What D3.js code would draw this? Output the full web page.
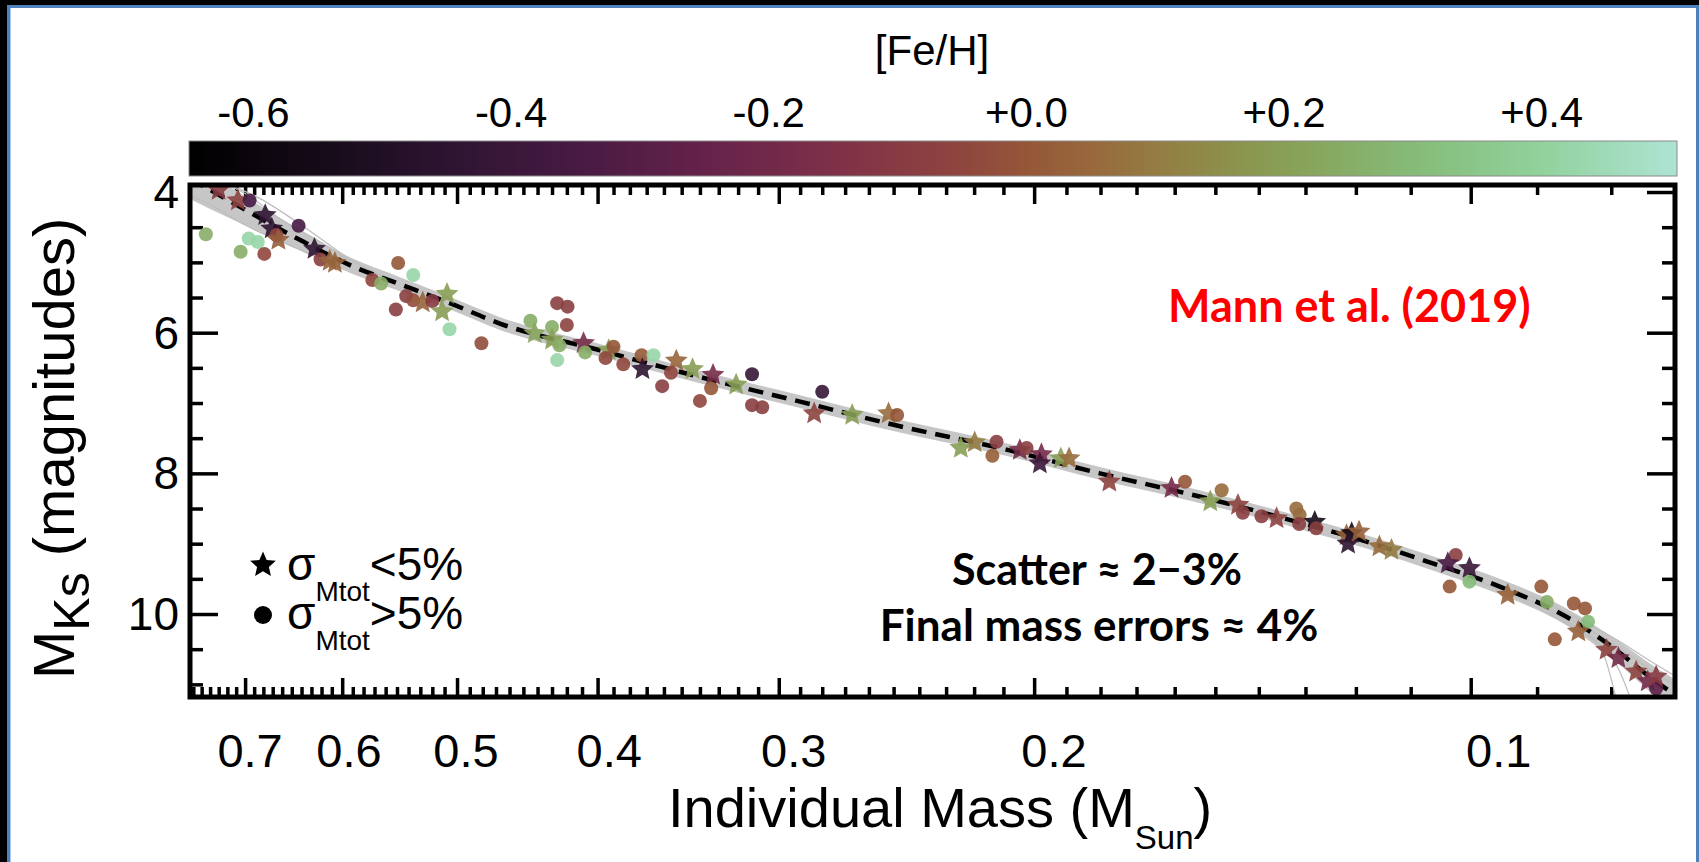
<!DOCTYPE html>
<html><head><meta charset="utf-8">
<script src="https://cdn.jsdelivr.net/npm/d3@7"></script>
<style>html,body{margin:0;padding:0;background:#000;overflow:hidden}svg{display:block}</style>
</head><body><svg id="c" width="1699" height="862"></svg>
<script>
// ---------------- DATA ----------------
const massMajorTicks = [0.7, 0.6, 0.5, 0.4, 0.3, 0.2, 0.1];
const massTickLabels = ["0.7", "0.6", "0.5", "0.4", "0.3", "0.2", "0.1"];
const mksMajorTicks = [4, 6, 8, 10];
const mksTickLabels = ["4", "6", "8", "10"];
const fehTicks = [-0.6, -0.4, -0.2, 0.0, 0.2, 0.4];
const fehTickLabels = ["-0.6", "-0.4", "-0.2", "+0.0", "+0.2", "+0.4"];

// colour bar stops ([Fe/H] -> colour)
const fehStops = [-0.65, -0.55, -0.45, -0.35, -0.25, -0.15, -0.05, 0.00, 0.05, 0.10, 0.15, 0.20, 0.30, 0.40, 0.505];
const fehStopColors = ["#000000", "#150b18", "#2d1431", "#471a42", "#65224a", "#7e3048", "#8f463e", "#955638",
  "#98683c", "#947c42", "#8d8e4a", "#889f55", "#85bb78", "#91d29c", "#aee3d4"];

// best-fit relation (dashed) and its spread
const fitMass = [0.764, 0.740, 0.6485, 0.5895, 0.5474, 0.5057, 0.4671, 0.3985, 0.340, 0.290, 0.2475, 0.2112, 0.1802, 0.1538, 0.1312, 0.1180, 0.1062, 0.0955, 0.0859, 0.0794, 0.0753, 0.0723];
const fitMKs = [3.81, 3.97, 4.63, 5.06, 5.31, 5.58, 5.87, 6.25, 6.63, 6.98, 7.33, 7.64, 8.00, 8.33, 8.70, 8.97, 9.28, 9.61, 10.04, 10.51, 10.89, 11.15];
const bandLow = [3.55, 3.74, 4.48, 4.95, 5.21, 5.49, 5.78, 6.16, 6.54, 6.89, 7.24, 7.55, 7.91, 8.24, 8.61, 8.88, 9.18, 9.50, 9.92, 10.36, 10.70, 10.93];
const bandHigh = [4.10, 4.24, 4.78, 5.17, 5.41, 5.67, 5.96, 6.34, 6.72, 7.07, 7.42, 7.73, 8.09, 8.42, 8.79, 9.07, 9.38, 9.72, 10.16, 10.68, 11.10, 11.42];

// individual thin realisations that stray at the ends
const realMass = [
  [0.764, 0.72, 0.684, 0.632, 0.59, 0.55],
  [0.764, 0.70, 0.66, 0.62, 0.59],
  [0.764, 0.74, 0.70, 0.6485, 0.60],
  [0.1062, 0.0955, 0.0859, 0.0813, 0.0794],
  [0.0955, 0.0859, 0.0813, 0.0790, 0.0776],
  [0.0955, 0.0859, 0.0794, 0.0753, 0.0723],
  [0.0955, 0.0859, 0.0794, 0.0753, 0.0723]
];
const realMKs = [
  [3.62, 3.88, 4.09, 4.55, 4.98, 5.28],
  [3.75, 4.02, 4.40, 4.72, 5.02],
  [4.05, 4.18, 4.47, 4.78, 5.08],
  [9.30, 9.66, 10.14, 10.5, 11.2],
  [9.64, 10.10, 10.45, 10.8, 11.2],
  [9.58, 9.98, 10.36, 10.66, 10.88],
  [9.62, 10.05, 10.45, 10.78, 11.02]
];

// binaries' components: mass, M_Ks, [Fe/H], shape (s = sigma<5%, c = sigma>5%)
const ptMass = [0.730, 0.708, 0.695, 0.678, 0.671, 0.666, 0.664, 0.643, 0.745, 0.696, 0.686, 0.705, 0.679, 0.627, 0.621, 0.612, 0.607, 0.549, 0.536, 0.572,
  0.564, 0.542, 0.536, 0.551, 0.528, 0.520, 0.508, 0.512, 0.506, 0.481, 0.445, 0.442, 0.430, 0.430, 0.425, 0.4265, 0.4265, 0.4195, 0.420, 0.409,
  0.408, 0.393, 0.390, 0.395, 0.384, 0.373, 0.366, 0.3725, 0.353, 0.356, 0.361, 0.344, 0.333, 0.334, 0.321, 0.340, 0.313, 0.313, 0.308, 0.280,
  0.2836, 0.267, 0.252, 0.2486, 0.2247, 0.2198, 0.2123, 0.2137, 0.2046, 0.2024, 0.1977, 0.1982, 0.1917, 0.1892, 0.1775, 0.1608, 0.1574, 0.1512, 0.1485, 0.1447,
  0.1436, 0.1394, 0.1361, 0.1319, 0.1312, 0.1313, 0.1281, 0.1278, 0.1218, 0.1208, 0.1215, 0.1194, 0.1156, 0.1134, 0.1024, 0.1037, 0.1002, 0.1002, 0.1034, 0.0943,
  0.0894, 0.0886, 0.0849, 0.0834, 0.0830, 0.0843, 0.0875, 0.0806, 0.0791, 0.0769, 0.0755, 0.0745, 0.0745];
const ptMKs = [3.97, 4.12, 4.12, 4.33, 4.52, 4.61, 4.68, 4.48, 4.60, 4.66, 4.71, 4.85, 4.88, 4.81, 4.96, 4.98, 5.01, 5.01, 5.18, 5.25,
  5.30, 5.48, 5.54, 5.67, 5.57, 5.55, 5.45, 5.70, 5.95, 6.15, 5.83, 6.01, 5.92, 6.10, 6.18, 6.39, 5.58, 5.63, 5.89, 6.15,
  6.28, 6.25, 6.20, 6.36, 6.45, 6.32, 6.32, 6.52, 6.40, 6.57, 6.76, 6.52, 6.60, 6.79, 6.74, 6.97, 6.59, 7.03, 7.06, 6.84,
  7.15, 7.17, 7.15, 7.17, 7.64, 7.56, 7.55, 7.75, 7.67, 7.64, 7.73, 7.86, 7.79, 7.79, 8.12, 8.21, 8.12, 8.40, 8.24, 8.45,
  8.56, 8.61, 8.64, 8.50, 8.59, 8.72, 8.69, 8.78, 8.88, 8.85, 9.00, 8.83, 9.04, 9.09, 9.16, 9.28, 9.35, 9.54, 9.61, 9.73,
  9.61, 9.83, 9.85, 9.92, 10.11, 10.25, 10.36, 10.51, 10.63, 10.82, 10.96, 11.06, 10.89];
const ptFeh = [-0.1, -0.07, -0.35, -0.45, -0.45, -0.05, 0.02, -0.35, 0.25, 0.42, 0.42, 0.25, -0.05, -0.45, -0.08, 0.04, 0.04, 0.0, 0.42, -0.05,
  0.25, -0.08, -0.03, -0.08, 0.04, -0.1, 0.2, 0.2, 0.42, -0.03, 0.25, 0.22, 0.25, 0.2, 0.25, 0.42, -0.08, -0.08, -0.07, -0.18,
  0.25, 0.2, 0.0, -0.05, -0.05, 0.01, 0.42, -0.45, 0.04, -0.05, -0.08, 0.2, -0.18, 0.0, 0.2, -0.05, -0.42, -0.08, -0.08, -0.42,
  -0.06, 0.2, 0.06, 0.0, 0.2, 0.1, -0.08, 0.02, -0.18, -0.08, -0.18, -0.4, 0.2, 0.06, -0.06, -0.18, 0.0, 0.2, 0.06, -0.06,
  -0.08, -0.08, -0.06, 0.06, 0.06, -0.08, -0.55, -0.08, 0.03, -0.55, -0.45, 0.03, 0.06, 0.1, -0.08, -0.35, -0.4, 0.3, 0.0, 0.03,
  0.0, 0.25, 0.0, 0.0, 0.3, 0.03, 0.0, -0.06, -0.18, -0.06, -0.18, -0.28, -0.1];
const ptShape = ["s", "s", "c", "s", "s", "c", "s", "c", "c", "c", "c", "c", "c", "s", "c", "s", "s", "c", "c", "c",
  "c", "c", "c", "c", "s", "c", "s", "s", "c", "c", "c", "s", "c", "s", "c", "c", "c", "c", "c", "s",
  "c", "s", "c", "c", "c", "c", "c", "s", "s", "c", "c", "s", "s", "c", "s", "c", "c", "c", "c", "c",
  "s", "s", "s", "c", "s", "s", "c", "c", "s", "c", "s", "s", "s", "s", "s", "s", "c", "s", "c", "s",
  "c", "c", "s", "c", "c", "c", "s", "c", "s", "s", "s", "s", "s", "s", "c", "s", "s", "c", "c", "s",
  "c", "c", "c", "c", "c", "s", "c", "s", "s", "s", "s", "c", "s"];

// ---------------- DRAW ----------------
const W = 1699, H = 862;
const L = 190, R = 1675, T = 185, B = 697;
const svg = d3.select("#c");
const FONT = "'Liberation Sans', Arial, Helvetica, sans-serif";
const BOLD = "Lato, 'Open Sans', sans-serif";

svg.append("rect").attr("width", W).attr("height", H).attr("fill", "#000");
svg.append("rect").attr("x", 8.5).attr("y", 6.5).attr("width", 1689).attr("height", H)
  .attr("fill", "#fff").attr("stroke", "#4f81bd").attr("stroke-width", 3);
svg.append("line").attr("x1", 10.5).attr("x2", 10.5).attr("y1", 8).attr("y2", H)
  .attr("stroke", "#a9c6ee").attr("stroke-width", 1);

const x = d3.scaleLog().domain([0.764, 0.0723]).range([L, R]);
const y = d3.scaleLinear().domain([3.9, 11.18]).range([T, B]);
// tick labels in the original sit on a slightly wider log scale than the ticks
const xLab = d3.scaleLog().domain([0.7, 0.1]).range([x(0.7) + 5, x(0.1) + 28]);
const color = d3.scaleLinear().domain(fehStops).range(fehStopColors).clamp(true);

function starD(Ro, ratio) {
  const pts = d3.range(10).map(k => {
    const a = -Math.PI / 2 + k * Math.PI / 5, r = k % 2 ? Ro * ratio : Ro;
    return [r * Math.cos(a), r * Math.sin(a)];
  });
  return "M" + pts.map(p => p[0].toFixed(2) + "," + p[1].toFixed(2)).join("L") + "Z";
}

// colour bar
const cbL = 189, cbR = 1677, cbT = 141, cbB = 176;
const cx = d3.scaleLinear().domain([fehStops[0], fehStops[fehStops.length - 1]]).range([cbL, cbR]);
const defs = svg.append("defs");
const grad = defs.append("linearGradient").attr("id", "cb").attr("x1", "0%").attr("x2", "100%");
fehStops.forEach((f, i) => grad.append("stop")
  .attr("offset", ((f - fehStops[0]) / (fehStops[fehStops.length - 1] - fehStops[0]) * 100) + "%")
  .attr("stop-color", fehStopColors[i]));
svg.append("rect").attr("x", cbL).attr("y", cbT).attr("width", cbR - cbL).attr("height", cbB - cbT)
  .attr("fill", "url(#cb)").attr("stroke", "#8a8a8a").attr("stroke-width", 1);
svg.append("g").selectAll("text").data(fehTicks).join("text")
  .attr("x", d => cx(d)).attr("y", 127).attr("text-anchor", "middle")
  .attr("font-family", FONT).attr("font-size", 42).text((d, i) => fehTickLabels[i]);
svg.append("text").attr("x", 932).attr("y", 65).attr("text-anchor", "middle")
  .attr("font-family", FONT).attr("font-size", 42).text("[Fe/H]");

// clip
defs.append("clipPath").attr("id", "plot").append("rect")
  .attr("x", L).attr("y", T).attr("width", R - L).attr("height", B - T);

// ticks (inward)
const massMinor = d3.range(8, 77).map(d => d / 100).filter(d => !massMajorTicks.some(m => Math.abs(m - d) < 1e-9));
const mksMinor = d3.range(8, 23).map(d => d / 2).filter(d => !mksMajorTicks.includes(d));
function styleAxis(g) {
  g.select(".domain").remove();
  g.selectAll(".tick line").attr("stroke", "#000").attr("stroke-width", 3.5);
  g.selectAll(".tick text").remove();
}
const axG = svg.append("g");
axG.append("g").attr("transform", `translate(0,${B})`).call(d3.axisBottom(x).tickValues(massMinor).tickSize(-10)).call(styleAxis);
axG.append("g").attr("transform", `translate(0,${B})`).call(d3.axisBottom(x).tickValues(massMajorTicks).tickSize(-19)).call(styleAxis);
axG.append("g").attr("transform", `translate(0,${T})`).call(d3.axisTop(x).tickValues(massMinor).tickSize(-10)).call(styleAxis);
axG.append("g").attr("transform", `translate(0,${T})`).call(d3.axisTop(x).tickValues(massMajorTicks).tickSize(-19)).call(styleAxis);
axG.append("g").attr("transform", `translate(${L},0)`).call(d3.axisLeft(y).tickValues(mksMinor).tickSize(-13)).call(styleAxis);
axG.append("g").attr("transform", `translate(${L},0)`).call(d3.axisLeft(y).tickValues(mksMajorTicks).tickSize(-28)).call(styleAxis);
axG.append("g").attr("transform", `translate(${R},0)`).call(d3.axisRight(y).tickValues(mksMinor).tickSize(-13)).call(styleAxis);
axG.append("g").attr("transform", `translate(${R},0)`).call(d3.axisRight(y).tickValues(mksMajorTicks).tickSize(-28)).call(styleAxis);

// plot contents
const pg = svg.append("g").attr("clip-path", "url(#plot)");
const idx = fitMass.map((d, i) => i);
pg.append("path").datum(idx)
  .attr("d", d3.area().x(i => x(fitMass[i])).y0(i => y(bandLow[i])).y1(i => y(bandHigh[i])).curve(d3.curveMonotoneX))
  .attr("fill", "#c6c6c6");
realMass.forEach((ms, k) => {
  pg.append("path").datum(ms.map((m, i) => [m, realMKs[k][i]]))
    .attr("d", d3.line().x(d => x(d[0])).y(d => y(d[1])).curve(d3.curveMonotoneX))
    .attr("fill", "none").attr("stroke", "#bdbdbd").attr("stroke-width", 1.2);
});
pg.append("path").datum(idx)
  .attr("d", d3.line().x(i => x(fitMass[i])).y(i => y(fitMKs[i])).curve(d3.curveMonotoneX))
  .attr("fill", "none").attr("stroke", "#000").attr("stroke-width", 4.5).attr("stroke-dasharray", "15,9");

const starPath = starD(12, 0.46);
const circPath = d3.symbol(d3.symbolCircle, Math.PI * 7 * 7)();
pg.selectAll(".pt").data(ptMass.map((m, i) => i)).join("path")
  .attr("class", "pt")
  .attr("transform", i => `translate(${x(ptMass[i])},${y(ptMKs[i])})`)
  .attr("d", i => ptShape[i] === "s" ? starPath : circPath)
  .attr("fill", i => color(ptFeh[i])).attr("fill-opacity", 0.9);

// frame
svg.append("rect").attr("x", L).attr("y", T).attr("width", R - L).attr("height", B - T)
  .attr("fill", "none").attr("stroke", "#000").attr("stroke-width", 5);

// tick labels
svg.append("g").selectAll("text").data(massMajorTicks).join("text")
  .attr("x", d => xLab(d)).attr("y", 767).attr("text-anchor", "middle")
  .attr("font-family", FONT).attr("font-size", 47).text((d, i) => massTickLabels[i]);
svg.append("g").selectAll("text").data(mksMajorTicks).join("text")
  .attr("x", 179).attr("y", d => y(d) + 16).attr("text-anchor", "end")
  .attr("font-family", FONT).attr("font-size", 46).text((d, i) => mksTickLabels[i]);

// axis titles
const xt = svg.append("text").attr("x", 668).attr("y", 827).attr("font-family", FONT).attr("font-size", 56);
xt.append("tspan").text("Individual Mass (M");
xt.append("tspan").attr("dy", 22).attr("font-size", 33).text("Sun");
xt.append("tspan").attr("dy", -22).text(")");
const yt = svg.append("text").attr("transform", "translate(74,679) rotate(-90)").attr("font-family", FONT).attr("font-size", 58);
yt.append("tspan").text("M");
yt.append("tspan").attr("dy", 15).attr("font-size", 50).text("Ks");
yt.append("tspan").attr("dy", -15).text(" (magnitudes)");

// annotations
svg.append("text").attr("x", 1168).attr("y", 322).attr("font-family", BOLD).attr("font-weight", 700)
  .attr("font-size", 45).attr("fill", "#ff0000").text("Mann et al. (2019)");
svg.append("text").attr("x", 1097).attr("y", 585).attr("text-anchor", "middle").attr("font-family", BOLD)
  .attr("font-weight", 700).attr("font-size", 43).attr("fill", "#000").text("Scatter ≈ 2−3%");
svg.append("text").attr("x", 1099).attr("y", 641).attr("text-anchor", "middle").attr("font-family", BOLD)
  .attr("font-weight", 700).attr("font-size", 44).attr("fill", "#000").text("Final mass errors ≈ 4%");

// legend
svg.append("path").attr("transform", "translate(263,565)").attr("d", starD(13.5, 0.46)).attr("fill", "#000");
svg.append("circle").attr("cx", 263).attr("cy", 615).attr("r", 9).attr("fill", "#000");
[["<5%", 580], [">5%", 629]].forEach(([s, b]) => {
  const t = svg.append("text").attr("x", 287).attr("y", b).attr("font-family", FONT).attr("font-size", 46);
  t.append("tspan").text("σ");
  t.append("tspan").attr("dy", 21).attr("font-size", 28).text("Mtot");
  t.append("tspan").attr("dy", -21).text(s);
});
</script></body></html>
